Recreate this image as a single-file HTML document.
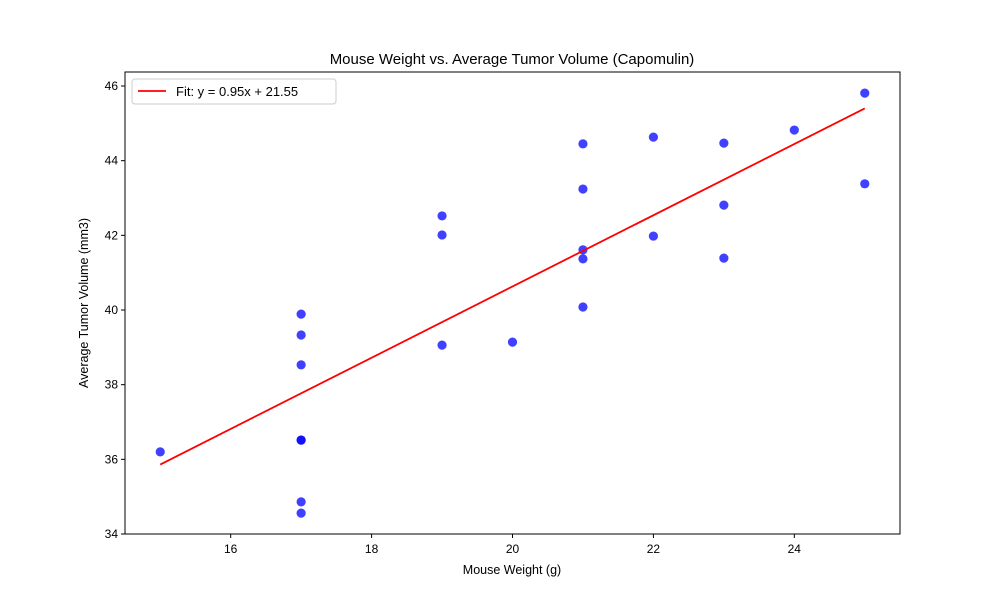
<!DOCTYPE html>
<html><head><meta charset="utf-8"><style>
body{margin:0;background:#fff;font-family:"Liberation Sans","DejaVu Sans",sans-serif}
</style></head><body>
<svg id="chart" width="1000" height="600" xmlns="http://www.w3.org/2000/svg" font-family="Liberation Sans, DejaVu Sans, sans-serif"></svg>
<script>
const weights=[15,17,17,17,17,17,17,17,19,19,19,20,21,21,21,21,21,22,22,23,23,23,24,25,25];
const volumes=[36.20,39.89,39.33,38.53,36.52,36.51,34.86,34.56,42.52,42.01,39.06,39.14,44.45,43.24,41.61,41.37,40.08,44.63,41.98,44.47,42.81,41.39,44.82,45.81,43.38];
const fitSlope=[0.954];
const fitIntercept=[21.55];
const xTicks=[16,18,20,22,24];
const yTicks=[34,36,38,40,42,44,46];
const NS='http://www.w3.org/2000/svg';
const svg=document.getElementById('chart');
const L=125,R=900,T=72,B=534,xmin=14.5,xmax=25.5,ymin=34,ymax=46.375;
const sx=v=>L+(v-xmin)/(xmax-xmin)*(R-L);
const sy=v=>B-(v-ymin)/(ymax-ymin)*(B-T);
function mk(tag,attrs,parent){const e=document.createElementNS(NS,tag);for(const k in attrs)e.setAttribute(k,attrs[k]);(parent||svg).appendChild(e);return e;}
const g=mk('g',{});


weights.forEach((w,i)=>{const c=mk('circle',{cx:sx(w),cy:sy(volumes[i]),r:4.6,fill:'#0000ff','fill-opacity':0.75},g);

});
const x0=Math.min(...weights),x1=Math.max(...weights);
const ln=mk('line',{x1:sx(x0),y1:sy(fitSlope[0]*x0+fitIntercept[0]),x2:sx(x1),y2:sy(fitSlope[0]*x1+fitIntercept[0]),stroke:'#ff0000','stroke-width':1.8});


const fr=mk('rect',{x:L,y:T,width:R-L,height:B-T,fill:'none',stroke:'#000','stroke-width':1});


xTicks.forEach(t=>{mk('line',{x1:sx(t),x2:sx(t),y1:B,y2:B+4,stroke:'#000'});
const tx=mk('text',{x:sx(t),y:B+19,'text-anchor':'middle','font-size':12});tx.textContent=t;

});
yTicks.forEach(t=>{mk('line',{x1:L-4,x2:L,y1:sy(t),y2:sy(t),stroke:'#000'});
const tx=mk('text',{x:L-7,y:sy(t)+4,'text-anchor':'end','font-size':12});tx.textContent=t;

});
const title=mk('text',{x:512,y:64,'text-anchor':'middle','font-size':15});title.textContent='Mouse Weight vs. Average Tumor Volume (Capomulin)';


const xl=mk('text',{x:512,y:574,'text-anchor':'middle','font-size':12.5});xl.textContent='Mouse Weight (g)';


const yl=mk('text',{x:0,y:0,'text-anchor':'middle','font-size':12.5,transform:'translate(88,303) rotate(-90)'});yl.textContent='Average Tumor Volume (mm3)';


const lg=mk('g',{});


mk('rect',{x:132,y:79,width:204,height:25,rx:3,fill:'#fff',stroke:'#ccc'},lg);
mk('line',{x1:138,x2:166,y1:91,y2:91,stroke:'#ff0000','stroke-width':1.8},lg);
const lt=mk('text',{x:176,y:96,'font-size':13},lg);lt.textContent='Fit: y = 0.95x + 21.55';


</script>
</body></html>
